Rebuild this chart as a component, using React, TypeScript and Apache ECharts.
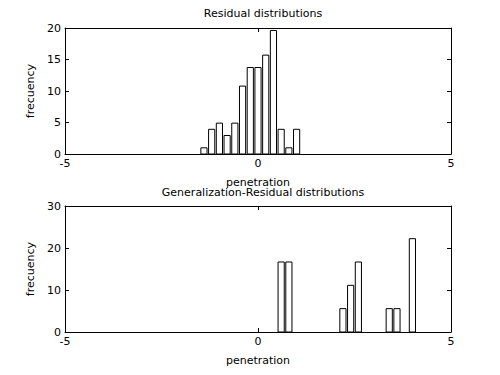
import React, { useEffect, useRef } from "react";
import * as echarts from "echarts";

// Residual distributions (top)
const residualCenters = [-1.4, -1.2, -1.0, -0.8, -0.6, -0.4, -0.2, 0.0, 0.2, 0.4, 0.6, 0.8, 1.0];
const residualFreq = [0.98, 3.92, 4.9, 2.94, 4.9, 10.78, 13.73, 13.73, 15.69, 19.61, 3.92, 0.98, 3.92];

// Generalization-Residual distributions (bottom)
const genCenters = [0.6, 0.8, 2.2, 2.4, 2.6, 3.4, 3.6, 4.0];
const genFreq = [16.67, 16.67, 5.56, 11.11, 16.67, 5.56, 5.56, 22.22];

const xTicks = [-5, 0, 5];
const topYTicks = [0, 5, 10, 15, 20];
const bottomYTicks = [0, 10, 20, 30];

const BIN = 0.2;
const BAR_FRAC = 0.8;
const FONT = "DejaVu Sans";

function App() {
  const ref = useRef<HTMLDivElement>(null);
  useEffect(() => {
    if (!ref.current) return;
    const chart = echarts.init(ref.current, null, { renderer: "svg" });

    const renderBar = (params: any, api: any) => {
      const x = api.value(0);
      const y = api.value(1);
      const half = (BIN * BAR_FRAC) / 2;
      const p0 = api.coord([x - half, 0]);
      const p1 = api.coord([x + half, y]);
      return {
        type: "rect",
        shape: { x: p0[0], y: p1[1], width: p1[0] - p0[0], height: p0[1] - p1[1] },
        style: { fill: "#ffffff", stroke: "#000000", lineWidth: 1 },
      };
    };

    const txt = { color: "#000", fontFamily: FONT, fontSize: 11 };
    const xMin = xTicks[0];
    const xMax = xTicks[xTicks.length - 1];
    const xInt = xTicks[1] - xTicks[0];

    const mkX = (gridIndex: number, position: "bottom" | "top", showLabels: boolean) => ({
      type: "value",
      gridIndex,
      position,
      min: xMin,
      max: xMax,
      interval: xInt,
      name: showLabels ? "penetration" : "",
      nameLocation: "middle",
      nameGap: 23,
      nameTextStyle: txt,
      axisLine: { show: true, onZero: false, lineStyle: { color: "#000", width: 1 } },
      axisTick: { show: true, inside: true, length: 4, lineStyle: { color: "#000" } },
      axisLabel: { show: showLabels, margin: 4, ...txt },
      splitLine: { show: false },
    });
    const mkY = (gridIndex: number, ticks: number[], position: "left" | "right", showLabels: boolean) => ({
      type: "value",
      gridIndex,
      position,
      min: ticks[0],
      max: ticks[ticks.length - 1],
      interval: ticks[1] - ticks[0],
      name: showLabels ? "frecuency" : "",
      nameLocation: "middle",
      nameGap: 25,
      nameTextStyle: txt,
      axisLine: { show: true, onZero: false, lineStyle: { color: "#000", width: 1 } },
      axisTick: { show: true, inside: true, length: 4, lineStyle: { color: "#000" } },
      axisLabel: { show: showLabels, margin: 4, ...txt },
      splitLine: { show: false },
    });

    chart.setOption({
      animation: false,
      backgroundColor: "#ffffff",
      title: [
        { text: "Residual distributions", left: 258, top: 3, textAlign: "center", textStyle: { ...txt, fontWeight: "normal" } },
        { text: "Generalization-Residual distributions", left: 258, top: 182, textAlign: "center", textStyle: { ...txt, fontWeight: "normal" } },
      ],
      grid: [
        { left: 65, top: 28, width: 386, height: 126 },
        { left: 65, top: 206, width: 386, height: 126 },
      ],
      xAxis: [mkX(0, "bottom", true), mkX(0, "top", false), mkX(1, "bottom", true), mkX(1, "top", false)],
      yAxis: [
        mkY(0, topYTicks, "left", true),
        mkY(0, topYTicks, "right", false),
        mkY(1, bottomYTicks, "left", true),
        mkY(1, bottomYTicks, "right", false),
      ],
      series: [
        {
          type: "custom",
          xAxisIndex: 0,
          yAxisIndex: 0,
          renderItem: renderBar,
          data: residualCenters.map((c, i) => [c, residualFreq[i]]),
        },
        {
          type: "custom",
          xAxisIndex: 2,
          yAxisIndex: 2,
          renderItem: renderBar,
          data: genCenters.map((c, i) => [c, genFreq[i]]),
        },
      ],
    });
    return () => chart.dispose();
  }, []);
  return <div ref={ref} style={{ width: 500, height: 375, position: "absolute", left: 0, top: 0 }} />;
}

export default App;
